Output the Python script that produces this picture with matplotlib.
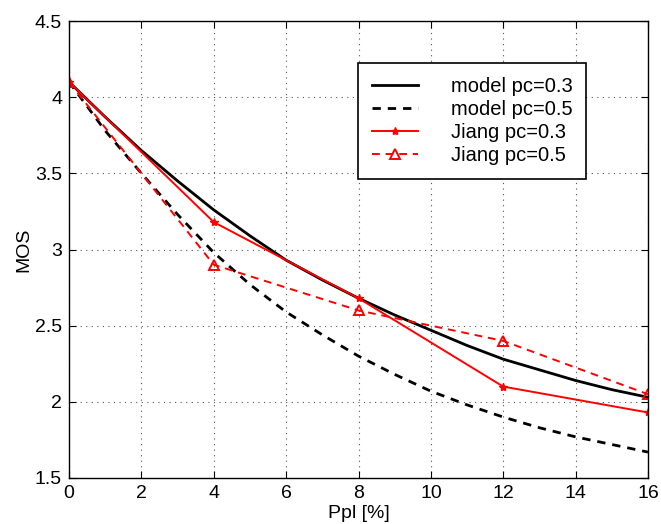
import numpy as np
from matplotlib import pyplot as plt

plt.rcParams['font.family'] = ['Liberation Sans', 'DejaVu Sans']

# model curves (at integer Ppl)
ppl_model = [0, 1, 2, 3, 4, 5, 6, 7, 8, 9, 10, 11, 12, 13, 14, 15, 16]
mos_model_03 = [4.10, 3.87, 3.65, 3.45, 3.26, 3.09, 2.93, 2.80, 2.68,
                2.57, 2.47, 2.37, 2.28, 2.21, 2.14, 2.08, 2.03]
mos_model_05 = [4.10, 3.78, 3.50, 3.23, 2.98, 2.77, 2.59, 2.44, 2.30,
                2.18, 2.07, 1.98, 1.90, 1.83, 1.77, 1.72, 1.67]

# Jiang measurements
ppl_jiang = [0, 4, 8, 12, 16]
mos_jiang_03 = [4.10, 3.18, 2.68, 2.10, 1.93]
mos_jiang_05 = [4.10, 2.90, 2.60, 2.40, 2.05]

fig = plt.figure(figsize=(6.61, 5.24), dpi=100)
ax = fig.add_axes([69 / 661, 1 - 478 / 524, 579 / 661, 457 / 524])

ax.plot(ppl_model, mos_model_03, color='black', lw=2.0, label='model pc=0.3')
ax.plot(ppl_model, mos_model_05, color='black', lw=2.0, ls=(0, (3, 2.5)),
        label='model pc=0.5')
ax.plot(ppl_jiang, mos_jiang_03, color='red', lw=1.4, marker='*', ms=6,
        label='Jiang pc=0.3')
ax.plot(ppl_jiang, mos_jiang_05, color='red', lw=1.4, ls=(0, (4, 3)),
        marker='^', ms=7, mfc='none', mew=1.4, label='Jiang pc=0.5')

ax.set_xlim(0, 16)
ax.set_ylim(1.5, 4.5)
ax.set_xticks(np.arange(0, 17, 2))
ax.set_yticks(np.arange(1.5, 4.51, 0.5))
ax.set_yticklabels(['1.5', '2', '2.5', '3', '3.5', '4', '4.5'])
ax.grid(True, color='#555555', ls=(0, (1, 4)), lw=0.8)
ax.tick_params(direction='in', top=True, right=True, labelsize=14,
               length=5, width=0.8, pad=5)
for s in ax.spines.values():
    s.set_linewidth(1.0)

ax.set_xlabel('Ppl [%]', fontsize=14, labelpad=2)
ax.set_ylabel('MOS', fontsize=14, labelpad=2)

leg = ax.legend(loc='upper left', bbox_to_anchor=(289 / 579, 1 - 42 / 457),
                borderaxespad=0, fontsize=14.5, numpoints=1, handlelength=2.3,
                handletextpad=1.6, labelspacing=0.2, borderpad=0.7,
                fancybox=False, framealpha=1, edgecolor='black')
leg.get_frame().set_linewidth(1.2)

plt.savefig('out.png', dpi=100)
